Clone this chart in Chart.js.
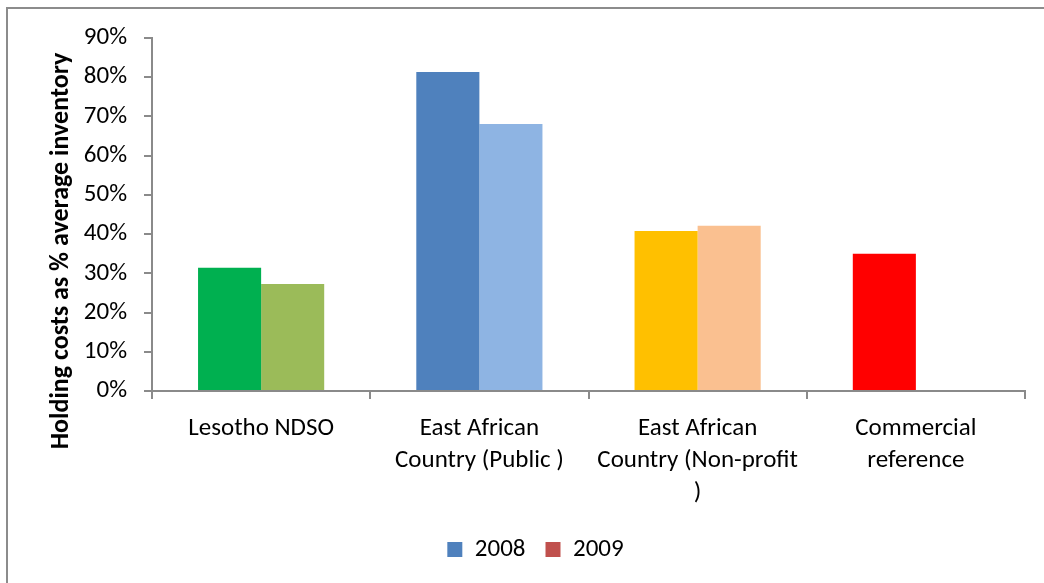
<!DOCTYPE html>
<html>
<head>
<meta charset="utf-8">
<script src="https://cdn.jsdelivr.net/npm/chart.js@4/dist/chart.umd.min.js"></script>
<style>
  html, body { margin: 0; padding: 0; background: #ffffff; }
  #wrap { width: 1044px; height: 583px; position: relative; }
</style>
</head>
<body>
<div id="wrap"><canvas id="chart" width="1044" height="583"></canvas></div>
<script>
// Holding costs as a share of average inventory, by supply organisation
const categories = [
  'Lesotho NDSO',
  ['East African', 'Country (Public )'],
  ['East African', 'Country (Non-profit', ')'],
  ['Commercial', 'reference']
];
const series2008 = [31.4, 81.3, 40.8, 35.0];
const series2009 = [27.3, 68.1, 42.1, null];
const colors2008 = ['#00B050', '#4F81BD', '#FFC000', '#FF0000'];
const colors2009 = ['#9BBB59', '#8EB4E3', '#FAC090', '#FAC090'];
const legendColors = { '2008': '#4F81BD', '2009': '#C0504D' };
const yTicks = [0, 10, 20, 30, 40, 50, 60, 70, 80, 90];
const yTitle = 'Holding costs as % average inventory';

const FONT = "Carlito, Calibri, Lato, 'Noto Sans', sans-serif";
const AXIS_GREY = '#8a8a8a';

// Frame lines along the top and left edges, plus white background
const framePlugin = {
  id: 'frame',
  beforeDraw(chart) {
    const ctx = chart.ctx;
    ctx.save();
    ctx.fillStyle = '#ffffff';
    ctx.fillRect(0, 0, chart.width, chart.height);
    ctx.strokeStyle = '#8c8c8c';
    ctx.lineWidth = 2;
    ctx.beginPath();
    ctx.moveTo(7, chart.height);
    ctx.lineTo(7, 8);
    ctx.lineTo(chart.width, 8);
    ctx.stroke();
    ctx.restore();
  }
};

// Vertical axis title, centred on the full chart height
const yTitlePlugin = {
  id: 'yTitle',
  afterDraw(chart) {
    const ctx = chart.ctx;
    ctx.save();
    ctx.translate(61, 251);
    ctx.rotate(-Math.PI / 2);
    ctx.font = 'bold 26px ' + FONT;
    ctx.fillStyle = '#000000';
    ctx.textAlign = 'center';
    ctx.textBaseline = 'middle';
    ctx.fillText(yTitle, 0, 0);
    ctx.restore();
  }
};

new Chart(document.getElementById('chart'), {
  type: 'bar',
  data: {
    labels: categories,
    datasets: [
      { label: '2008', data: series2008, backgroundColor: colors2008, borderWidth: 0,
        categoryPercentage: 0.578, barPercentage: 1.0 },
      { label: '2009', data: series2009, backgroundColor: colors2009, borderWidth: 0,
        categoryPercentage: 0.578, barPercentage: 1.0 }
    ]
  },
  options: {
    responsive: false,
    animation: false,
    layout: { padding: { left: 46, right: 19, top: 38, bottom: 11 } },
    plugins: {
      tooltip: { enabled: false },
      legend: {
        position: 'bottom',
        labels: {
          font: { family: FONT, size: 25 },
          color: '#000000',
          boxWidth: 15,
          boxHeight: 15,
          padding: 20,
          generateLabels(chart) {
            return chart.data.datasets.map((ds, i) => ({
              text: ds.label,
              fillStyle: legendColors[ds.label],
              strokeStyle: legendColors[ds.label],
              lineWidth: 0,
              hidden: false,
              datasetIndex: i,
              fontColor: '#000000'
            }));
          }
        }
      }
    },
    scales: {
      x: {
        grid: { display: true, drawOnChartArea: false, drawTicks: true, tickLength: 8,
                color: AXIS_GREY, lineWidth: 2, offset: true },
        border: { display: true, color: AXIS_GREY, width: 2 },
        ticks: { font: { family: FONT, size: 25, lineHeight: 1.28 }, color: '#000000',
                 padding: 14, maxRotation: 0, autoSkip: false },
        afterFit(scale) { scale.height = 126; }
      },
      y: {
        min: 0,
        max: 90,
        afterBuildTicks(scale) { scale.ticks = yTicks.map(v => ({ value: v })); },
        grid: { display: true, drawOnChartArea: false, drawTicks: true, tickLength: 8,
                color: AXIS_GREY, lineWidth: 2 },
        border: { display: true, color: AXIS_GREY, width: 2 },
        ticks: { font: { family: FONT, size: 25 }, color: '#000000', padding: 17,
                 callback: v => v + '%' },
        afterFit(scale) { scale.width = 106; }
      }
    }
  },
  plugins: [framePlugin, yTitlePlugin]
});
</script>
</body>
</html>
